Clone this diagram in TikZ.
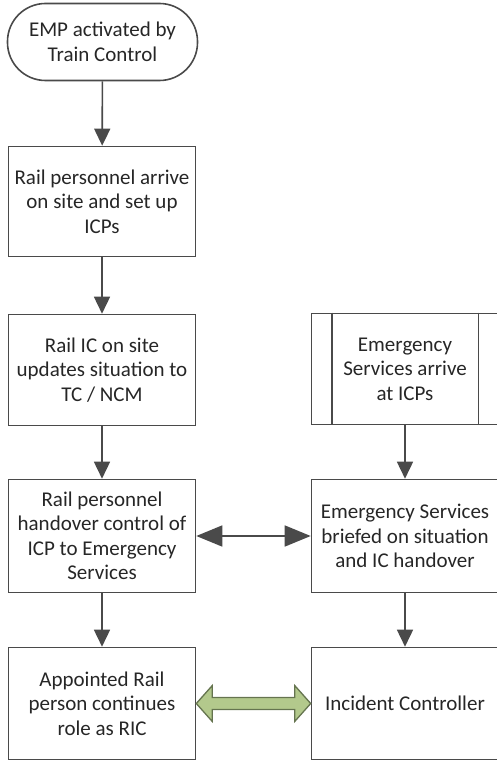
\documentclass[tikz,border=0pt]{standalone}
\usepackage{fontspec}
\setmainfont{Carlito}
\usetikzlibrary{arrows.meta,calc}
\definecolor{edge}{HTML}{4A4A4A}
\definecolor{ink}{HTML}{262626}
\definecolor{leaf}{HTML}{B3C98C}
\definecolor{leafedge}{HTML}{65744F}

\begin{document}
\begin{tikzpicture}[x=1pt,y=-1pt,
  every node/.style={font=\fontsize{21}{24.5}\selectfont, text=ink, align=center},
  stepbox/.style={draw=edge, line width=1.6pt, minimum width=187pt, inner sep=0pt},
  startbox/.style={stepbox, rounded corners=38pt, minimum width=190pt, minimum height=77pt},
  flow/.style={draw=edge, line width=1.6pt, -{Triangle[length=17pt,width=16pt]}},
  twoway/.style={draw=edge, line width=1.6pt, {Triangle[length=26pt,width=21pt]}-{Triangle[length=26pt,width=21pt]}},
  bigarrow/.style={draw=leafedge, fill=leaf, line width=1.3pt, line join=miter}
]
\useasboundingbox (0,0) rectangle (497,762);

% left column
\node[startbox] (start) at (102.5,42) {EMP activated by\\Train Control};
\node[stepbox, minimum height=110pt] (arrive) at (102,201.5) {Rail personnel arrive\\on site and set up\\ICPs};
\node[stepbox, minimum height=111pt] (update) at (102,370) {Rail IC on site\\updates situation to\\TC / NCM};
\node[stepbox, minimum height=113pt] (handover) at (102,536) {Rail personnel\\handover control of\\ICP to Emergency\\Services};
\node[stepbox, minimum height=112pt] (ric) at (102,703.5) {Appointed Rail\\person continues\\role as RIC};

% right column
\node[stepbox, minimum height=111pt] (esarrive) at (405,369) {Emergency\\Services arrive\\at ICPs};
\draw[draw=edge, line width=1.6pt] ($(esarrive.north west)+(21,0)$) -- ($(esarrive.south west)+(21,0)$);
\draw[draw=edge, line width=1.6pt] ($(esarrive.north east)+(-21,0)$) -- ($(esarrive.south east)+(-21,0)$);
\node[stepbox, minimum height=113pt] (briefed) at (405,536) {Emergency Services\\briefed on situation\\and IC handover};
\node[stepbox, minimum height=112pt] (ic) at (405,703.5) {Incident Controller};

% connectors
\draw[flow] (start) -- (arrive);
\draw[flow] (arrive) -- (update);
\draw[flow] (update) -- (handover);
\draw[flow] (handover) -- (ric);
\draw[flow] (esarrive) -- (briefed);
\draw[flow] (briefed) -- (ic);
\draw[twoway] (handover) -- (briefed);

% block double arrow between RIC and Incident Controller
\draw[bigarrow] (ric.east) -- ++(16,-18) -- ++(0,12)
  -- ($(ic.west)+(-16,-6)$) -- ++(0,-12) -- (ic.west)
  -- ++(-16,18) -- ++(0,-12)
  -- ($(ric.east)+(16,6)$) -- ++(0,12) -- cycle;
\end{tikzpicture}
\end{document}
